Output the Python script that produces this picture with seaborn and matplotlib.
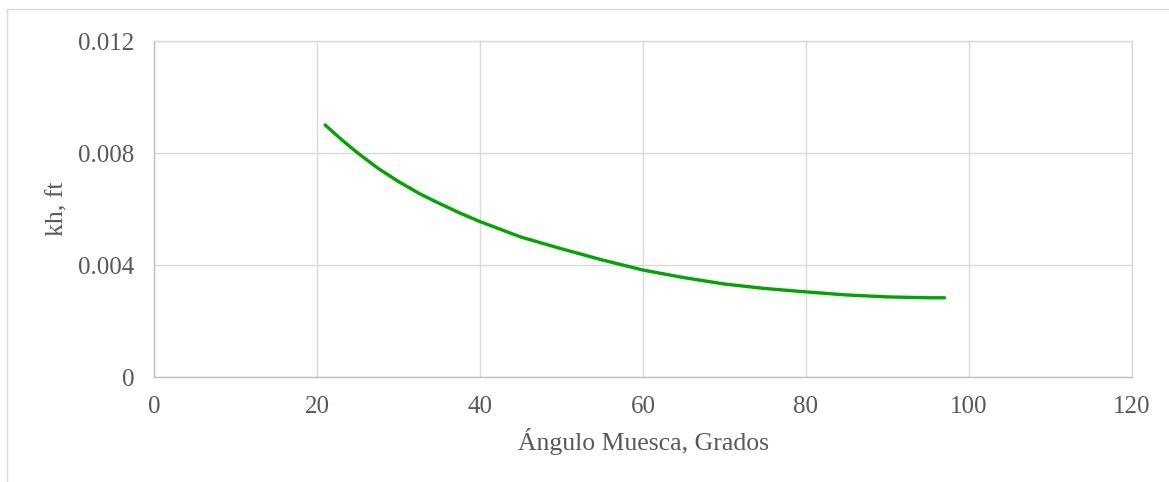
import numpy as np
import pandas as pd
import matplotlib
matplotlib.use("Agg")
import matplotlib.pyplot as plt
import seaborn as sns
from matplotlib.patches import Rectangle

# Data
angulo = [21, 23, 25, 27.5, 30, 32.5, 35, 37.5, 40, 45, 50, 55, 60, 65, 70, 75,
          80, 85, 90, 95, 97]
kh = [0.0090, 0.00848, 0.0080, 0.00745, 0.00698, 0.00656, 0.0062, 0.00586, 0.00555,
      0.0050, 0.00458, 0.00418, 0.00382, 0.00355, 0.00332, 0.00316, 0.00304,
      0.00293, 0.00286, 0.00283, 0.00283]
x_ticks = [0, 20, 40, 60, 80, 100, 120]
y_ticks = [0, 0.004, 0.008, 0.012]
y_labels = ["0", "0.004", "0.008", "0.012"]

df = pd.DataFrame({"angulo": angulo, "kh": kh})

sns.set_theme(style="white")
plt.rcParams["font.family"] = ["Liberation Serif", "DejaVu Serif"]

fig = plt.figure(figsize=(11.69, 4.82), dpi=100)
ax = fig.add_axes([154 / 1169, 1 - 377 / 482, (1132 - 154) / 1169, (377 - 41) / 482])

# outer chart border (only top/left visible in the crop)
fig.patches.append(Rectangle((7 / 1169, -0.1), 1.2, 1 - 9 / 482 + 0.1,
                             transform=fig.transFigure, fill=False,
                             edgecolor="#D9D9D9", linewidth=1.0))

sns.lineplot(data=df, x="angulo", y="kh", ax=ax, color="#00A600", linewidth=2.4)

ax.set_xlim(0, 120)
ax.set_ylim(0, 0.012)
ax.set_xticks(x_ticks)
ax.set_yticks(y_ticks)
ax.set_yticklabels(y_labels)
ax.grid(True, color="#D9D9D9", linewidth=1.0)
ax.set_axisbelow(True)

for side in ["top", "right"]:
    ax.spines[side].set_color("#D9D9D9")
for side in ["left", "bottom"]:
    ax.spines[side].set_color("#BFBFBF")
for s in ax.spines.values():
    s.set_linewidth(1.0)

ax.tick_params(axis="both", length=0, labelsize=18, labelcolor="#595959")
ax.tick_params(axis="x", pad=14)
ax.tick_params(axis="y", pad=14)
ax.set_xlabel("Ángulo Muesca, Grados", fontsize=18.5, color="#595959", labelpad=7)
ax.set_ylabel("kh, ft", fontsize=18.5, color="#595959", labelpad=7)

fig.savefig("out.png", dpi=100)
